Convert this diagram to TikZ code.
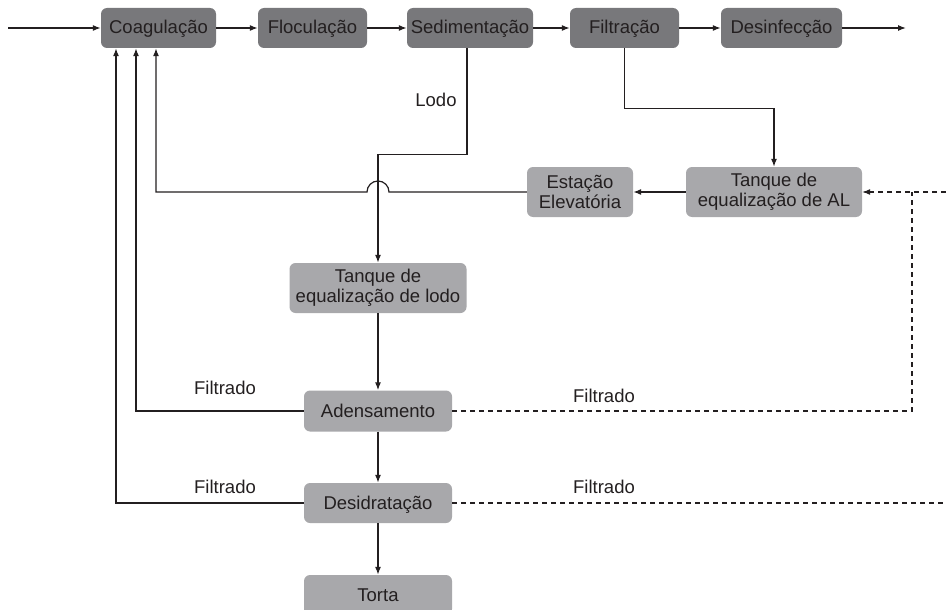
\documentclass[tikz,border=0pt]{standalone}
\usepackage{fontspec}
\setmainfont{Liberation Sans}
\usetikzlibrary{arrows.meta}
\definecolor{ink}{HTML}{231F20}
\definecolor{darkbox}{HTML}{78787B}
\definecolor{lightbox}{HTML}{A8A8AB}
\tikzset{
  procbox/.style={draw=none, fill=darkbox, rounded corners=6pt, minimum height=40pt,
    inner sep=0pt, text=ink, font=\fontsize{18.5}{20}\selectfont, align=center},
  oneline/.style={text height=13pt, text depth=1pt},
  sludgebox/.style={procbox, fill=lightbox},
  arr/.style={draw=ink, line width=1.2pt, -{Latex[length=8pt,width=6pt]}},
  dsh/.style={draw=ink, line width=1.1pt, dash pattern=on 5pt off 4pt},
  lbl/.style={text=ink, font=\fontsize{18.5}{20}\selectfont, inner sep=0pt},
}
\begin{document}
\begin{tikzpicture}[x=1pt, y=-1pt]
  \useasboundingbox (0,0) rectangle (946,610);

  % main treatment line
  \node[procbox, oneline, minimum width=115pt] (coag) at (158.5,28) {Coagulação};
  \node[procbox, oneline, minimum width=109pt] (floc) at (312.5,28) {Floculação};
  \node[procbox, oneline, minimum width=126pt] (sed)  at (470,28)   {Sedimentação};
  \node[procbox, oneline, minimum width=109pt] (filt) at (624.5,28) {Filtração};
  \node[procbox, oneline, minimum width=121pt] (desf) at (781.5,28) {Desinfecção};

  % wash water and sludge handling
  \node[sludgebox, minimum width=106pt, minimum height=50pt] (est) at (580,192) {Estação\\Elevatória};
  \node[sludgebox, minimum width=176pt, minimum height=50pt] (tal) at (774,192) {Tanque de\\equalização de AL};
  \node[sludgebox, minimum width=177pt, minimum height=50pt] (tlodo) at (378,288) {Tanque de\\equalização de lodo};
  \node[sludgebox, oneline, minimum width=148pt, minimum height=41pt] (aden) at (378,411) {Adensamento};
  \node[sludgebox, oneline, minimum width=148pt, minimum height=40pt] (desid) at (378,503) {Desidratação};
  \node[sludgebox, oneline, minimum width=148pt, minimum height=40pt] (torta) at (378,595) {Torta};

  \coordinate (inflow) at (8,28);
  \coordinate (outflow) at (906,28);
  \coordinate (alin) at (946,192);
  \coordinate (alsplit) at (912,192);
  \coordinate (filout) at (946,503);

  % main line arrows
  \draw[arr] (inflow) -- (coag.west);
  \draw[arr] (coag) -- (floc);
  \draw[arr] (floc) -- (sed);
  \draw[arr] (sed) -- (filt);
  \draw[arr] (filt) -- (desf);
  \draw[arr] (desf.east) -- (outflow);

  % sludge from sedimentation
  \draw[arr] ([xshift=-3pt]sed.south) -- ++(0,106) -| (tlodo.north);
  \node[lbl] (lodo) at (436,100) {Lodo};

  % backwash water from filtration
  \draw[arr] (filt.south) -- ++(0,60) -| (tal.north);
  \draw[arr] (tal.west) -- (est.east);

  % recirculation to coagulation, hopping over the sludge line
  \draw[arr] (est.west) -- (389,192) arc[start angle=0, end angle=180, radius=11pt]
    -- ([xshift=-2.5pt]coag.south |- est.west) -- ([xshift=-2.5pt]coag.south);

  % filtrate returns
  \draw[arr] (aden.west) -| ([xshift=-22.5pt]coag.south);
  \draw[arr] (desid.west) -| ([xshift=-42.5pt]coag.south);
  \node[lbl] (fl1) at (225,388) {Filtrado};
  \node[lbl] (fl2) at (225,487) {Filtrado};
  \node[lbl] (fr1) at (604,396) {Filtrado};
  \node[lbl] (fr2) at (604,487) {Filtrado};

  % alternative filtrate routes (dashed)
  \draw[dsh, -{Latex[length=8pt,width=6pt]}] (alin) -- (tal.east);
  \draw[dsh] (aden.east) -| (alsplit);
  \draw[dsh] (desid.east) -- (filout);

  % sludge line
  \draw[arr] (tlodo.south) -- (aden.north);
  \draw[arr] (aden.south) -- (desid.north);
  \draw[arr] (desid.south) -- (torta.north);
\end{tikzpicture}
\end{document}
